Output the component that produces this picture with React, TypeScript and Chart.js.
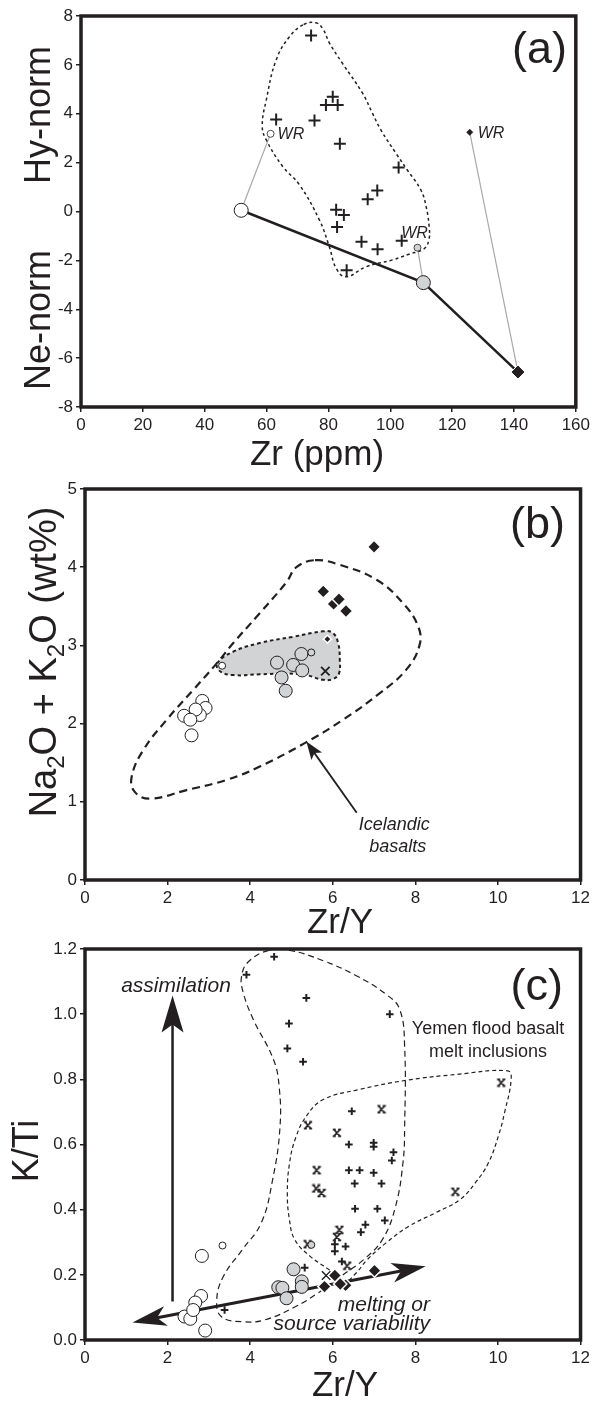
import { useEffect, useRef } from 'react';
import { Chart, registerables } from 'chart.js';

Chart.register(...registerables);

type P = [number, number];

const FONT = '"Liberation Sans", Arial, Helvetica, sans-serif';
const INK = '#231f20';
const GREY = '#d1d3d4';
const TIE = '#a7a9ac';
const WHITE = '#ffffff';

// ================= Panel (a): Zr (ppm) vs Hy/Ne-norm =================
const aZrTicks = [0, 20, 40, 60, 80, 100, 120, 140, 160];
const aNormTicks = [-8, -6, -4, -2, 0, 2, 4, 6, 8];
const aMeltInclusions: P[] = [
  [74.4, 7.2], [81.4, 4.7], [79.2, 4.36], [83.0, 4.36], [75.5, 3.72], [63.1, 3.76],
  [83.7, 2.77], [102.7, 1.8], [95.8, 0.86], [92.7, 0.5], [82.5, 0.07], [85.0, -0.14],
  [82.8, -0.63], [90.7, -1.24], [95.9, -1.54], [103.7, -1.2], [85.9, -2.4],
];
const aMeltField: P[] = [
  [72, 7.65], [76, 7.72], [78.3, 7.45], [80.3, 6.9], [84.5, 6.07], [91, 4.85], [94.2, 4.03],
  [97, 3.33], [101.8, 2.39], [105.5, 1.7], [109.9, 0.88], [111.6, 0.2], [112.6, -0.65],
  [112.5, -1.15], [111, -1.52], [106, -1.75], [100.7, -1.98], [92.2, -2.26], [85.7, -2.67],
  [82.5, -2.32], [80.3, -1.44], [77.1, -0.35], [70.6, 1.1], [65.3, 1.83], [59.9, 2.93],
  [58.6, 3.5], [59.9, 4.56], [63.1, 6.2], [67.4, 7.15],
];
const aOpenWR: P[] = [[61.3, 3.18]];
const aGreyWR: P[] = [[108.8, -1.48]];
const aDiamondWR: P[] = [[125.7, 3.24]];
const aModelPath: P[] = [[51.8, 0.05], [110.7, -2.91], [141.3, -6.57]];
const aTieLines: P[][] = [
  [[61.3, 3.18], [51.8, 0.05]],
  [[108.8, -1.48], [110.7, -2.91]],
  [[125.7, 3.24], [141.3, -6.57]],
];

// ================= Panel (b): Zr/Y vs Na2O + K2O =================
const bZrYTicks = [0, 2, 4, 6, 8, 10, 12];
const bAlkaliTicks = [0, 1, 2, 3, 4, 5];
const bIcelandField: P[] = [
  [5.57, 4.09], [6.17, 4.03], [7.06, 3.84], [7.7, 3.54], [8.07, 3.24], [8.1, 3.0], [7.78, 2.69],
  [7.14, 2.39], [6.25, 2.05], [5.32, 1.75], [4.23, 1.45], [3.43, 1.28], [2.46, 1.15], [1.57, 1.04],
  [1.2, 1.13], [1.13, 1.32], [1.41, 1.66], [1.98, 2.05], [2.62, 2.43], [3.19, 2.77], [3.59, 3.03],
  [4.23, 3.41], [4.88, 3.81], [5.12, 4.0],
];
const bShadedField: P[] = [
  [3.2, 2.77], [3.59, 2.92], [4.23, 3.03], [5.04, 3.11], [5.77, 3.18], [6.0, 3.16], [6.13, 3.03],
  [6.17, 2.81], [6.15, 2.64], [6.01, 2.57], [5.77, 2.56], [5.36, 2.62], [4.88, 2.64], [4.23, 2.63],
  [3.59, 2.62], [3.27, 2.67],
];
const bOpenCircles: P[] = [
  [2.84, 2.29], [2.92, 2.2], [2.78, 2.11], [2.68, 2.18], [2.4, 2.1], [2.55, 2.05], [2.58, 1.85],
];
const bOpenSmall: P[] = [[3.32, 2.74]];
const bGreyCircles: P[] = [
  [4.65, 2.78], [5.04, 2.75], [5.24, 2.89], [5.26, 2.68], [4.76, 2.59], [4.86, 2.42],
];
const bGreySmall: P[] = [[5.48, 2.91]];
const bDiamonds: P[] = [[6.02, 3.53], [7.0, 4.26], [5.77, 3.69], [6.15, 3.59], [6.32, 3.44]];
const bSmallDiamond: P[] = [[5.87, 3.08]];
const bCross: P[] = [[5.82, 2.67]];
const bIcelandArrow: P[] = [[6.58, 0.86], [5.36, 1.77]];

// ================= Panel (c): Zr/Y vs K/Ti =================
const cZrYTicks = [0, 2, 4, 6, 8, 10, 12];
const cKTiTicks = [0, 0.2, 0.4, 0.6, 0.8, 1.0, 1.2];
const cYemenField: P[] = [
  [4.45, 1.196], [3.95, 1.16], [3.79, 1.115], [3.83, 1.067], [4.07, 0.985], [4.56, 0.862],
  [4.7, 0.78], [4.72, 0.65], [4.54, 0.49], [4.27, 0.36], [3.81, 0.277], [3.35, 0.195],
  [3.19, 0.123], [3.3, 0.072], [3.81, 0.056], [4.36, 0.062], [5.09, 0.102], [5.64, 0.144],
  [6.19, 0.195], [6.74, 0.246], [7.2, 0.308], [7.52, 0.41], [7.7, 0.544], [7.74, 0.65],
  [7.74, 0.902], [7.62, 1.015], [7.3, 1.06], [6.57, 1.118], [5.77, 1.164], [4.96, 1.196],
];
const cInclusionField: P[] = [
  [5.36, 0.687], [5.77, 0.738], [6.65, 0.769], [7.78, 0.797], [9.0, 0.815], [10.24, 0.826],
  [10.32, 0.8], [10.16, 0.698], [10.02, 0.63], [9.77, 0.544], [9.45, 0.482], [9.08, 0.431],
  [8.48, 0.39], [7.84, 0.349], [7.29, 0.298], [6.83, 0.246], [6.56, 0.205], [6.28, 0.179],
  [5.92, 0.215], [5.46, 0.256], [5.08, 0.308], [4.95, 0.37], [4.9, 0.45], [4.95, 0.54], [5.1, 0.62],
];
const cPlus: P[] = [
  [4.58, 1.176], [3.91, 1.121], [4.94, 0.971], [4.9, 0.895], [5.36, 1.05], [7.38, 1.0],
  [5.28, 0.854], [6.46, 0.702], [6.39, 0.6], [6.99, 0.605], [6.99, 0.593], [7.47, 0.576],
  [7.43, 0.551], [6.39, 0.521], [6.65, 0.521], [6.99, 0.513], [6.53, 0.48], [7.18, 0.48],
  [6.54, 0.403], [7.08, 0.403], [7.26, 0.367], [6.79, 0.354], [6.68, 0.331], [6.31, 0.287],
  [6.05, 0.294], [6.05, 0.272], [6.22, 0.241], [5.32, 0.222], [3.38, 0.092],
];
const cStar: P[] = [
  [7.18, 0.708], [5.4, 0.659], [6.1, 0.636], [10.08, 0.79], [5.61, 0.521], [5.6, 0.465],
  [5.73, 0.451], [8.97, 0.455], [6.16, 0.338], [6.1, 0.316], [6.35, 0.228], [5.39, 0.294],
];
const cOpenCircles: P[] = [
  [2.83, 0.258], [2.81, 0.135], [2.67, 0.115], [2.41, 0.072], [2.55, 0.065], [2.62, 0.092], [2.91, 0.029],
];
const cOpenSmall: P[] = [[3.33, 0.29]];
const cGreyCircles: P[] = [
  [5.05, 0.217], [5.25, 0.18], [5.25, 0.163], [4.68, 0.162], [4.78, 0.16], [4.88, 0.128],
];
const cGreySmall: P[] = [[5.48, 0.292]];
const cDiamonds: P[] = [[6.05, 0.198], [6.31, 0.168], [5.8, 0.164], [6.18, 0.172], [7.01, 0.213]];
const cThinCross: P[] = [[5.84, 0.198]];
const cAssimilationArrow: P[] = [[2.12, 0.118], [2.12, 1.057]];
const cMeltingArrow: P[] = [[1.15, 0.054], [8.25, 0.226]];

// ================= helpers =================
const pts = (a: P[]) => a.map(([x, y]) => ({ x, y }));

function markerSet(data: P[], pointStyle: any, radius: number, fill: string, stroke: string, width: number) {
  return {
    type: 'scatter', data: pts(data), showLine: false,
    pointStyle, pointRadius: radius, pointHoverRadius: radius,
    pointBackgroundColor: fill, pointBorderColor: stroke,
    pointBorderWidth: width, pointHoverBorderWidth: width,
  };
}

function lineSet(data: P[], color: string, width: number, dash: number[] = [], extra: Record<string, unknown> = {}) {
  return {
    type: 'line', data: pts(data), borderColor: color, borderWidth: width, borderDash: dash,
    pointRadius: 0, pointHoverRadius: 0, fill: false, tension: 0, ...extra,
  };
}

function fieldSet(data: P[], width: number, dash: number[], extra: Record<string, unknown> = {}) {
  return lineSet(data, INK, width, dash, { tension: 0.42, closed: true, ...extra });
}

function axis(ticks: number[], fit: 'width' | 'height', size: number, fmt: (v: number) => string) {
  return {
    type: 'linear',
    min: ticks[0],
    max: ticks[ticks.length - 1],
    afterBuildTicks: (s: any) => { s.ticks = ticks.map((value) => ({ value })); },
    afterFit: (s: any) => { s[fit] = size; },
    ticks: {
      autoSkip: false, maxRotation: 0, minRotation: 0, padding: 3, color: INK,
      font: { family: FONT, size: 17 },
      callback: (v: any) => fmt(Number(v)),
    },
    grid: {
      display: true, drawOnChartArea: false, drawTicks: true, tickLength: 5,
      tickWidth: 1.5, tickColor: INK, color: INK, lineWidth: 1.5,
    },
    border: { display: false },
  };
}

function baseOptions(x: any, y: any, padding: any) {
  return {
    responsive: false, animation: false, devicePixelRatio: 1, events: [],
    layout: { padding },
    plugins: { legend: { display: false }, tooltip: { enabled: false }, title: { display: false } },
    scales: { x, y },
  };
}

function drawText(ctx: CanvasRenderingContext2D, s: string, x: number, y: number, size: number,
  o: { align?: CanvasTextAlign; italic?: boolean; rotate?: boolean } = {}) {
  ctx.save();
  ctx.fillStyle = INK;
  ctx.font = `${o.italic ? 'italic ' : ''}${size}px ${FONT}`;
  ctx.textAlign = o.align ?? 'left';
  ctx.textBaseline = 'alphabetic';
  ctx.translate(x, y);
  if (o.rotate) ctx.rotate(-Math.PI / 2);
  ctx.fillText(s, 0, 0);
  ctx.restore();
}

function drawRichRotated(ctx: CanvasRenderingContext2D, parts: [string, boolean][], x: number, y: number, size: number) {
  ctx.save();
  ctx.translate(x, y);
  ctx.rotate(-Math.PI / 2);
  ctx.fillStyle = INK;
  ctx.textAlign = 'left';
  ctx.textBaseline = 'alphabetic';
  const sub = Math.round(size * 0.64);
  const widths = parts.map(([s, isSub]) => {
    ctx.font = `${isSub ? sub : size}px ${FONT}`;
    return ctx.measureText(s).width;
  });
  let cx = -widths.reduce((a, b) => a + b, 0) / 2;
  parts.forEach(([s, isSub], i) => {
    ctx.font = `${isSub ? sub : size}px ${FONT}`;
    ctx.fillText(s, cx, isSub ? size * 0.2 : 0);
    cx += widths[i];
  });
  ctx.restore();
}

function drawArrow(ctx: CanvasRenderingContext2D, from: number[], to: number[],
  o: { w: number; len: number; half: number; notch: number; both?: boolean }) {
  const dx = to[0] - from[0], dy = to[1] - from[1];
  const L = Math.hypot(dx, dy);
  const ux = dx / L, uy = dy / L;
  const head = (tx: number, ty: number, vx: number, vy: number) => {
    const bx = tx - vx * o.len, by = ty - vy * o.len;
    const nx = -vy, ny = vx;
    ctx.beginPath();
    ctx.moveTo(tx, ty);
    ctx.lineTo(bx + nx * o.half, by + ny * o.half);
    ctx.lineTo(tx - vx * o.notch, ty - vy * o.notch);
    ctx.lineTo(bx - nx * o.half, by - ny * o.half);
    ctx.closePath();
    ctx.fill();
  };
  ctx.save();
  ctx.strokeStyle = INK;
  ctx.fillStyle = INK;
  ctx.lineWidth = o.w;
  ctx.beginPath();
  const s0 = o.both ? o.notch * 0.9 : 0;
  ctx.moveTo(from[0] + ux * s0, from[1] + uy * s0);
  ctx.lineTo(to[0] - ux * o.notch * 0.9, to[1] - uy * o.notch * 0.9);
  ctx.stroke();
  head(to[0], to[1], ux, uy);
  if (o.both) head(from[0], from[1], -ux, -uy);
  ctx.restore();
}

const pix = (chart: any, p: P) => [chart.scales.x.getPixelForValue(p[0]), chart.scales.y.getPixelForValue(p[1])];

// closes field outlines into smooth loops, shades a field, draws the plot frame
const fieldPlugin = {
  id: 'fieldsAndFrame',
  afterDatasetUpdate(chart: any, args: any) {
    const ds = chart.data.datasets[args.index];
    const line = args.meta.dataset;
    if (ds && ds.closed && line) {
      line._loop = true;
      line._fullLoop = true;
      line._pointsUpdated = false;
      delete line._segments;
      delete line._path;
    }
  },
  beforeDatasetDraw(chart: any, args: any) {
    const ds = chart.data.datasets[args.index];
    const line = args.meta.dataset;
    if (ds && ds.shade && line) {
      line.updateControlPoints(chart.chartArea, 'x');
      const p = new Path2D();
      line.path(p);
      p.closePath();
      const ctx = chart.ctx;
      ctx.save();
      ctx.fillStyle = ds.shade;
      ctx.fill(p);
      ctx.restore();
    }
  },
  afterDatasetsDraw(chart: any) {
    const { ctx, chartArea: a } = chart;
    ctx.save();
    ctx.strokeStyle = INK;
    ctx.lineWidth = 3.5;
    ctx.strokeRect(a.left, a.top, a.right - a.left, a.bottom - a.top);
    ctx.restore();
  },
};

function makeStarGlyph(): HTMLCanvasElement {
  const c = document.createElement('canvas');
  c.width = 10; c.height = 10;
  const g = c.getContext('2d')!;
  g.strokeStyle = INK;
  g.lineWidth = 1.8;
  g.beginPath();
  g.moveTo(2.2, 2); g.lineTo(7.8, 8);
  g.moveTo(7.8, 2); g.lineTo(2.2, 8);
  g.moveTo(0.8, 1.6); g.lineTo(3.8, 1.6);
  g.moveTo(6.2, 1.6); g.lineTo(9.2, 1.6);
  g.moveTo(0.8, 8.4); g.lineTo(3.8, 8.4);
  g.moveTo(6.2, 8.4); g.lineTo(9.2, 8.4);
  g.stroke();
  return c;
}

const fmtInt = (v: number) => String(Math.round(v));
const fmt1 = (v: number) => v.toFixed(1);

function configA(): any {
  const decor = {
    id: 'decorA',
    afterDraw(chart: any) {
      const ctx = chart.ctx;
      drawText(ctx, 'Hy-norm', 50, 115, 36, { rotate: true, align: 'center' });
      drawText(ctx, 'Ne-norm', 50, 320, 36, { rotate: true, align: 'center' });
      drawText(ctx, 'Zr (ppm)', 317, 465, 35, { align: 'center' });
      drawText(ctx, '(a)', 567, 63, 45, { align: 'right' });
      let [px, py] = pix(chart, aOpenWR[0]);
      drawText(ctx, 'WR', px + 7, py + 5.5, 16, { italic: true });
      [px, py] = pix(chart, aGreyWR[0]);
      drawText(ctx, 'WR', px - 3, py - 10, 16, { italic: true, align: 'center' });
      [px, py] = pix(chart, aDiamondWR[0]);
      drawText(ctx, 'WR', px + 8, py + 5.5, 16, { italic: true });
    },
  };
  return {
    type: 'scatter',
    data: {
      datasets: [
        markerSet(aMeltInclusions, 'cross', 6, INK, INK, 2),
        markerSet([aModelPath[2]], 'rectRot', 7, INK, WHITE, 1),
        markerSet([aModelPath[1]], 'circle', 7, GREY, INK, 1),
        markerSet([aModelPath[0]], 'circle', 7, WHITE, INK, 1),
        markerSet(aDiamondWR, 'rectRot', 3.2, INK, INK, 0.5),
        markerSet(aGreyWR, 'circle', 3.5, GREY, INK, 0.8),
        markerSet(aOpenWR, 'circle', 3.5, WHITE, INK, 0.8),
        fieldSet(aMeltField, 1.5, [3, 3]),
        lineSet(aModelPath, INK, 2.5),
        ...aTieLines.map((t) => lineSet(t, TIE, 1.2)),
      ],
    },
    options: baseOptions(
      axis(aZrTicks, 'height', 73, fmtInt),
      axis(aNormTicks, 'width', 81, fmtInt),
      { left: 0, right: 16, top: 16, bottom: 0 },
    ),
    plugins: [fieldPlugin, decor],
  };
}

function configB(): any {
  const decor = {
    id: 'decorB',
    afterDraw(chart: any) {
      const ctx = chart.ctx;
      drawRichRotated(ctx, [['Na', false], ['2', true], ['O + K', false], ['2', true], ['O (wt%)', false]], 56, 192, 38);
      drawText(ctx, 'Zr/Y', 340, 463, 35, { align: 'center' });
      drawText(ctx, '(b)', 565, 68, 45, { align: 'right' });
      const tail = pix(chart, bIcelandArrow[0]);
      const tip = pix(chart, bIcelandArrow[1]);
      drawArrow(ctx, tail, tip, { w: 1.8, len: 18, half: 6.5, notch: 14 });
      drawText(ctx, 'Icelandic', tail[0] + 2, tail[1] + 17, 18, { italic: true });
      drawText(ctx, 'basalts', tail[0] + 41, tail[1] + 39, 18, { italic: true, align: 'center' });
    },
  };
  return {
    type: 'scatter',
    data: {
      datasets: [
        markerSet(bDiamonds, 'rectRot', 6.7, INK, WHITE, 1.5),
        markerSet(bSmallDiamond, 'rectRot', 4, INK, WHITE, 1.5),
        markerSet(bCross, 'crossRot', 6, INK, INK, 1.8),
        markerSet(bGreySmall, 'circle', 3.5, GREY, INK, 1),
        markerSet(bGreyCircles, 'circle', 6.5, GREY, INK, 1),
        markerSet(bOpenSmall, 'circle', 3.5, WHITE, INK, 1),
        markerSet(bOpenCircles, 'circle', 6.5, WHITE, INK, 1),
        fieldSet(bShadedField, 2, [3.5, 3], { shade: GREY }),
        fieldSet(bIcelandField, 2.2, [8, 5]),
      ],
    },
    options: baseOptions(
      axis(bZrYTicks, 'height', 70, fmtInt),
      axis(bAlkaliTicks, 'width', 85, fmtInt),
      { left: 0, right: 12, top: 19, bottom: 0 },
    ),
    plugins: [fieldPlugin, decor],
  };
}

function configC(star: HTMLCanvasElement): any {
  const decor = {
    id: 'decorC',
    beforeDatasetsDraw(chart: any) {
      const ctx = chart.ctx;
      drawArrow(ctx, pix(chart, cAssimilationArrow[0]), pix(chart, cAssimilationArrow[1]),
        { w: 2.5, len: 37, half: 11, notch: 29 });
      drawArrow(ctx, pix(chart, cMeltingArrow[0]), pix(chart, cMeltingArrow[1]),
        { w: 3, len: 34, half: 10, notch: 25, both: true });
    },
    afterDraw(chart: any) {
      const ctx = chart.ctx;
      drawText(ctx, 'K/Ti', 38, 221, 36, { rotate: true, align: 'center' });
      drawText(ctx, 'Zr/Y', 345, 466, 35, { align: 'center' });
      drawText(ctx, '(c)', 563, 70, 45, { align: 'right' });
      drawText(ctx, 'assimilation', 176, 62, 21, { italic: true, align: 'center' });
      drawText(ctx, 'Yemen flood basalt', 488, 104, 18, { align: 'center' });
      drawText(ctx, 'melt inclusions', 488, 127, 18, { align: 'center' });
      drawText(ctx, 'melting or', 430, 381, 21, { italic: true, align: 'right' });
      drawText(ctx, 'source variability', 430, 400, 21, { italic: true, align: 'right' });
    },
  };
  return {
    type: 'scatter',
    data: {
      datasets: [
        markerSet(cDiamonds, 'rectRot', 6.7, INK, WHITE, 1.5),
        markerSet(cThinCross, 'crossRot', 6, INK, INK, 1.5),
        markerSet(cGreySmall, 'circle', 3.5, GREY, INK, 1),
        markerSet(cGreyCircles, 'circle', 6.5, GREY, INK, 1),
        markerSet(cOpenSmall, 'circle', 3.5, WHITE, INK, 1),
        markerSet(cOpenCircles, 'circle', 6.5, WHITE, INK, 1),
        markerSet(cPlus, 'cross', 3.8, INK, INK, 2),
        markerSet(cStar, star, 5, INK, INK, 1),
        fieldSet(cInclusionField, 1.2, [4, 3]),
        fieldSet(cYemenField, 1.2, [6, 4]),
      ],
    },
    options: baseOptions(
      axis(cZrYTicks, 'height', 62, fmtInt),
      axis(cKTiTicks, 'width', 85, fmt1),
      { left: 0, right: 12, top: 19, bottom: 0 },
    ),
    plugins: [fieldPlugin, decor],
  };
}

export default function App() {
  const refA = useRef<HTMLCanvasElement>(null);
  const refB = useRef<HTMLCanvasElement>(null);
  const refC = useRef<HTMLCanvasElement>(null);

  useEffect(() => {
    const star = makeStarGlyph();
    const charts = [
      new Chart(refA.current!, configA()),
      new Chart(refB.current!, configB()),
      new Chart(refC.current!, configC(star)),
    ];
    return () => charts.forEach((c) => c.destroy());
  }, []);

  const cs = (top: number): any => ({ position: 'absolute', left: 0, top, display: 'block' });
  return (
    <div style={{ position: 'absolute', left: 0, top: 0, width: 593, height: 1402, background: '#fff' }}>
      <canvas ref={refA} width={593} height={480} style={cs(0)} />
      <canvas ref={refB} width={593} height={480} style={cs(470)} />
      <canvas ref={refC} width={593} height={472} style={cs(930)} />
    </div>
  );
}
